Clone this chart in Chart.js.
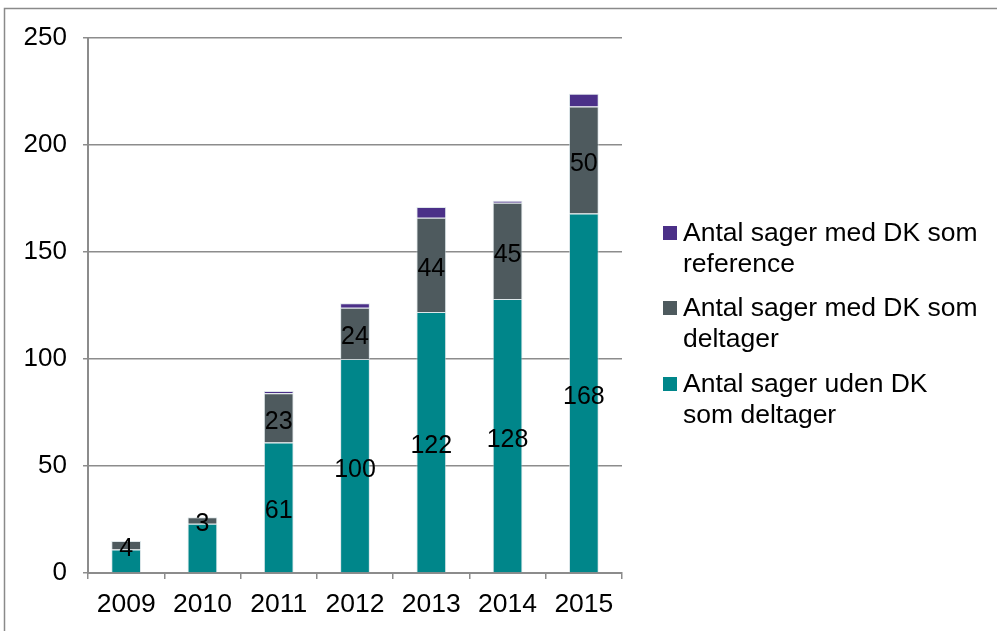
<!DOCTYPE html>
<html><head><meta charset="utf-8">
<script src="https://cdn.jsdelivr.net/npm/chart.js@4/dist/chart.umd.min.js"></script>
<style>html,body{margin:0;padding:0;background:#fff}#wrap{width:997px;height:631px;position:relative}canvas{display:block}</style>
</head><body><div id="wrap"><canvas id="c" width="997" height="631"></canvas></div>
<script>
const categories = ['2009','2010','2011','2012','2013','2014','2015'];
const udenDK = [11, 23, 61, 100, 122, 128, 168];
const medDKdeltager = [4, 3, 23, 24, 44, 45, 50];
const medDKreference = [0, 0, 1, 2, 5, 1, 6];
const labelsUden = [null, null, 61, 100, 122, 128, 168];
const labelsDeltager = [4, 3, 23, 24, 44, 45, 50];
const yTickValues = [0, 50, 100, 150, 200, 250];
const seriesNames = ['Antal sager uden DK som deltager', 'Antal sager med DK som deltager', 'Antal sager med DK som reference'];
const legendLines = [['Antal sager med DK som', 'reference'], ['Antal sager med DK som', 'deltager'], ['Antal sager uden DK', 'som deltager']];

const C_TEAL = '#00868A', C_GRAY = '#4E5A5E', C_PURPLE = '#4B3088';
const FONT = 'Liberation Sans, Arial, sans-serif';
const AXIS = '#8c8c8c';

const segLabels = {
  id: 'segLabels',
  afterDatasetsDraw(chart) {
    const ctx = chart.ctx;
    ctx.save();
    ctx.font = '25px ' + FONT;
    ctx.fillStyle = '#000';
    ctx.textAlign = 'center';
    ctx.textBaseline = 'middle';
    chart.data.datasets.forEach((ds, i) => {
      if (!ds.segLabels) return;
      chart.getDatasetMeta(i).data.forEach((el, j) => {
        const v = ds.segLabels[j];
        if (v === null || v === undefined) return;
        ctx.fillText(String(v), el.x, (el.y + el.base) / 2 + 4);
      });
    });
    ctx.restore();
  }
};

const frameAndLegend = {
  id: 'frameAndLegend',
  beforeDraw(chart) {
    const ctx = chart.ctx;
    ctx.save();
    ctx.fillStyle = '#fff';
    ctx.fillRect(0, 0, chart.width, chart.height);
    ctx.strokeStyle = '#8a8a8a';
    ctx.lineWidth = 1.5;
    ctx.beginPath();
    ctx.moveTo(4.5, 631);
    ctx.lineTo(4.5, 8.5);
    ctx.lineTo(997, 8.5);
    ctx.stroke();
    ctx.restore();
  },
  afterDraw(chart) {
    const ctx = chart.ctx;
    const colors = [C_PURPLE, C_GRAY, C_TEAL];
    const tops = [234, 309, 385];
    ctx.save();
    ctx.font = '26.5px ' + FONT;
    ctx.fillStyle = '#000';
    ctx.textAlign = 'left';
    ctx.textBaseline = 'middle';
    legendLines.forEach((lines, i) => {
      ctx.fillStyle = colors[i];
      ctx.fillRect(663, tops[i] - 8, 14, 14);
      ctx.fillStyle = '#000';
      lines.forEach((ln, k) => ctx.fillText(ln, 683, tops[i] + k * 31));
    });
    ctx.restore();
  }
};

new Chart(document.getElementById('c'), {
  type: 'bar',
  data: {
    labels: categories,
    datasets: [
      { label: seriesNames[0], data: udenDK, backgroundColor: C_TEAL, borderColor: 'rgba(200,215,220,0.6)', borderWidth: 1, segLabels: labelsUden },
      { label: seriesNames[1], data: medDKdeltager, backgroundColor: C_GRAY, borderColor: 'rgba(200,215,220,0.6)', borderWidth: 1, segLabels: labelsDeltager },
      { label: seriesNames[2], data: medDKreference, backgroundColor: C_PURPLE, borderColor: 'rgba(200,215,220,0.6)', borderWidth: 1 }
    ]
  },
  options: {
    responsive: false,
    animation: false,
    layout: { padding: { top: 38, right: 375, left: 0, bottom: 0 } },
    plugins: { legend: { display: false }, tooltip: { enabled: false } },
    datasets: { bar: { categoryPercentage: 1, barPercentage: 0.39 } },
    scales: {
      x: {
        stacked: true,
        grid: { display: true, drawOnChartArea: false, color: AXIS, lineWidth: 1.5, tickLength: 6, offset: true },
        border: { color: AXIS, width: 2 },
        ticks: { color: '#000', font: { family: FONT, size: 26.5 }, padding: 10, maxRotation: 0 },
        afterFit(s) { s.height = 58; }
      },
      y: {
        stacked: true,
        min: 0, max: 250,
        afterBuildTicks(s) { s.ticks = yTickValues.map(v => ({ value: v })); },
        grid: { color: AXIS, lineWidth: 1.5, tickLength: 5 },
        border: { color: AXIS, width: 2 },
        ticks: { color: '#000', font: { family: FONT, size: 26 }, padding: 16 },
        afterFit(s) { s.width = 88; }
      }
    }
  },
  plugins: [segLabels, frameAndLegend]
});
</script>
</body></html>
